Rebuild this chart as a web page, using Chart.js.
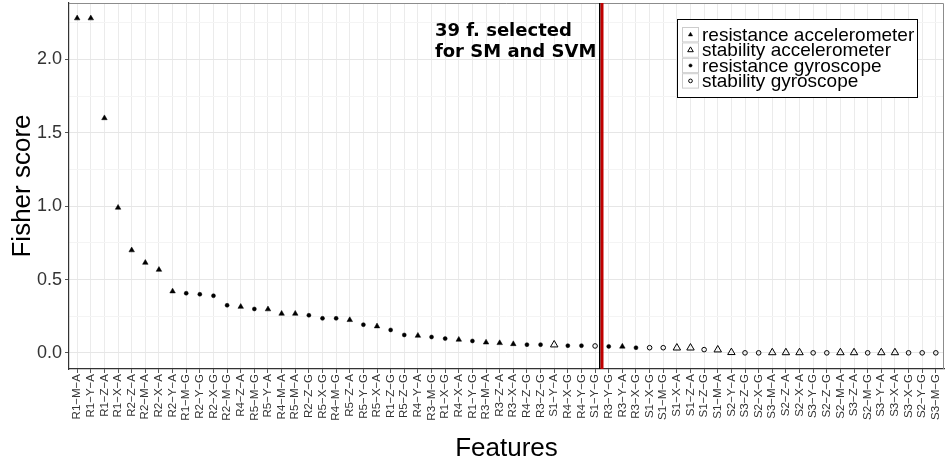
<!DOCTYPE html>
<html>
<head>
<meta charset="utf-8">
<script src="https://cdn.jsdelivr.net/npm/chart.js@4/dist/chart.umd.min.js"></script>
<style>
  html, body { margin: 0; padding: 0; background: #fff; }
  canvas { display: block; }
</style>
</head>
<body>
<canvas id="fisherChart" width="945" height="466"></canvas>
<script>
// features sorted by Fisher score
const featureLabels = [
    'R1-M-A', 'R1-Y-A', 'R1-Z-A', 'R1-X-A', 'R2-Z-A', 'R2-M-A', 'R2-X-A', 'R2-Y-A',
    'R1-M-G', 'R2-Y-G', 'R2-X-G', 'R2-M-G', 'R4-Z-A', 'R5-M-G', 'R5-Y-A', 'R4-M-A',
    'R5-M-A', 'R2-Z-G', 'R5-X-G', 'R4-M-G', 'R5-Z-A', 'R5-Y-G', 'R5-X-A', 'R1-Z-G',
    'R5-Z-G', 'R4-Y-A', 'R3-M-G', 'R1-X-G', 'R4-X-A', 'R1-Y-G', 'R3-M-A', 'R3-Z-A',
    'R3-X-A', 'R4-Z-G', 'R3-Z-G', 'S1-Y-A', 'R4-X-G', 'R4-Y-G', 'S1-Y-G', 'R3-Y-G',
    'R3-Y-A', 'R3-X-G', 'S1-X-G', 'S1-M-G', 'S1-X-A', 'S1-Z-A', 'S1-Z-G', 'S1-M-A',
    'S2-Y-A', 'S3-Z-G', 'S2-X-G', 'S3-M-A', 'S2-Z-A', 'S2-X-A', 'S3-Y-G', 'S2-Z-G',
    'S2-M-A', 'S3-Z-A', 'S2-M-G', 'S3-Y-A', 'S3-X-A', 'S3-X-G', 'S2-Y-G', 'S3-M-G'
];
const fisherScores = [
    2.28, 2.28, 1.60, 0.99, 0.70, 0.615, 0.567, 0.42,
    0.407, 0.40, 0.39, 0.325, 0.315, 0.30, 0.298, 0.268,
    0.268, 0.257, 0.236, 0.236, 0.225, 0.193, 0.182, 0.157,
    0.123, 0.118, 0.109, 0.098, 0.091, 0.082, 0.072, 0.068,
    0.061, 0.057, 0.057, 0.056, 0.050, 0.050, 0.048, 0.045,
    0.044, 0.036, 0.036, 0.036, 0.035, 0.035, 0.023, 0.022,
    0.004, 0.001, 0.001, 0.003, 0.003, 0.003, 0.001, 0.001,
    0.003, 0.003, 0.001, 0.003, 0.003, 0.001, 0.001, 0.001
];
const groupNames = ['resistance accelerometer', 'stability accelerometer', 'resistance gyroscope', 'stability gyroscope'];
const groupCodes = ['R-A', 'S-A', 'R-G', 'S-G'];
const selectedCount = 39;
const yTicks = [0, 0.25, 0.5, 0.75, 1, 1.25, 1.5, 1.75, 2, 2.25];

const groupStyles = [
    { pointStyle: 'triangle', radius: 3.2, fill: '#000', borderWidth: 0.5 },
    { pointStyle: 'triangle', radius: 4.3, fill: 'rgba(0,0,0,0)', borderWidth: 1 },
    { pointStyle: 'circle', radius: 2, fill: '#000', borderWidth: 0.5 },
    { pointStyle: 'circle', radius: 2.3, fill: 'rgba(0,0,0,0)', borderWidth: 1 }
];

const FONT = "'Liberation Sans', Arial, sans-serif";

function groupOf(label) {
    return label[0] + '-' + label[label.length - 1];
}

const datasets = groupNames.map((name, g) => {
    const pts = [];
    featureLabels.forEach((lab, i) => {
        if (groupOf(lab) === groupCodes[g]) pts.push({ x: i + 1, y: fisherScores[i] });
    });
    const st = groupStyles[g];
    return {
        label: name,
        data: pts,
        pointStyle: st.pointStyle,
        pointRadius: st.radius,
        pointHoverRadius: st.radius,
        backgroundColor: st.fill,
        borderColor: '#000',
        borderWidth: st.borderWidth,
        showLine: false
    };
});

// border, cut-off line, annotation and legend box
const decorPlugin = {
    id: 'decor',
    afterDatasetsDraw(chart) {
        const ctx = chart.ctx;
        const a = chart.chartArea;
        const xs = chart.scales.x;
        ctx.save();
        // panel border top/right
        ctx.strokeStyle = '#8c8c8c';
        ctx.lineWidth = 1;
        ctx.beginPath();
        ctx.moveTo(a.left, a.top + 0.5);
        ctx.lineTo(a.right - 0.5, a.top + 0.5);
        ctx.lineTo(a.right - 0.5, a.bottom);
        ctx.stroke();

        // cut-off line after the selected features
        const lx = xs.getPixelForValue(selectedCount + 0.5);
        ctx.fillStyle = '#000';
        ctx.fillRect(Math.round(lx) - 3, a.top, 1.5, a.bottom - a.top);
        ctx.fillStyle = '#c00000';
        ctx.fillRect(Math.round(lx) - 1.5, a.top, 3, a.bottom - a.top);

        ctx.fillStyle = '#000';
        ctx.font = "bold 18px 'DejaVu Sans', sans-serif";
        ctx.textAlign = 'left';
        ctx.textBaseline = 'alphabetic';
        ctx.fillText('39 f. selected', lx - 167, a.top + 33);
        ctx.fillText('for SM and SVM', lx - 167, a.top + 54);
        ctx.restore();
    },
    afterDraw(chart) {
        const ctx = chart.ctx;
        const a = chart.chartArea;
        const x0 = a.right - 267, y0 = a.top + 16, w = 240, h = 78;
        ctx.save();
        ctx.fillStyle = '#fff';
        ctx.fillRect(x0, y0, w, h);
        ctx.strokeStyle = '#000';
        ctx.lineWidth = 1;
        ctx.strokeRect(x0 + 0.5, y0 + 0.5, w, h);

        const rowH = 15.4;
        const ky = y0 + 8;
        groupNames.forEach((name, g) => {
            const top = ky + g * rowH;
            ctx.fillStyle = '#fff';
            ctx.fillRect(x0 + 5, top, 17, rowH);
            ctx.strokeStyle = '#cccccc';
            ctx.lineWidth = 1;
            ctx.strokeRect(x0 + 5.5, top + 0.5, 16, rowH - 1);

            const st = groupStyles[g];
            ctx.fillStyle = st.fill;
            ctx.strokeStyle = '#000';
            ctx.lineWidth = st.borderWidth;
            const r = st.pointStyle === 'triangle' ? st.radius * 0.75 : st.radius * 0.8;
            Chart.helpers.drawPoint(ctx, {
                pointStyle: st.pointStyle, radius: r, rotation: 0, borderWidth: st.borderWidth
            }, x0 + 13.5, top + rowH / 2);

            ctx.fillStyle = '#000';
            ctx.font = '19px ' + FONT;
            ctx.textAlign = 'left';
            ctx.textBaseline = 'middle';
            ctx.fillText(name, x0 + 25, top + rowH / 2 + 1);
        });
        ctx.restore();
    }
};

new Chart(document.getElementById('fisherChart'), {
    type: 'scatter',
    data: { datasets: datasets },
    options: {
        responsive: false,
        animation: false,
        events: [],
        layout: { autoPadding: false, padding: { top: 3, right: 1, left: 0, bottom: 0 } },
        plugins: {
            legend: { display: false },
            tooltip: { enabled: false },
            title: { display: false }
        },
        scales: {
            x: {
                type: 'linear',
                min: 0.4,
                max: featureLabels.length + 0.6,
                afterBuildTicks(scale) {
                    scale.ticks = featureLabels.map((_, i) => ({ value: i + 1 }));
                },
                afterFit(scale) {
                    scale.height = 97;
                    scale.paddingLeft = 0;
                    scale.paddingRight = 0;
                },
                ticks: {
                    autoSkip: false,
                    minRotation: 90,
                    maxRotation: 90,
                    padding: 1,
                    color: '#333',
                    font: { family: FONT, size: 11.5 },
                    callback: v => (featureLabels[v - 1] || '').replace(/-/g, '\u2212')
                },
                grid: {
                    color: '#ebebeb',
                    lineWidth: 1,
                    tickColor: '#555',
                    tickLength: 4
                },
                border: { display: true, color: '#333', width: 1.2 },
                title: {
                    display: true,
                    text: 'Features',
                    color: '#000',
                    font: { family: FONT, size: 26, lineHeight: 1.2 },
                    padding: { top: 0, bottom: 2 }
                }
            },
            y: {
                type: 'linear',
                min: -0.109,
                max: 2.384,
                afterBuildTicks(scale) {
                    scale.ticks = yTicks.map(v => ({ value: v }));
                },
                afterFit(scale) {
                    scale.width = 69;
                    scale.paddingTop = 0;
                    scale.paddingBottom = 0;
                },
                ticks: {
                    padding: 3,
                    color: '#333',
                    font: { family: FONT, size: 18 },
                    callback: v => (Math.abs(v * 2 - Math.round(v * 2)) < 1e-9 ? v.toFixed(1) : '')
                },
                grid: {
                    color: ctx => (ctx.tick && Math.abs(ctx.tick.value * 2 - Math.round(ctx.tick.value * 2)) < 1e-9) ? '#e6e6e6' : '#f4f4f4',
                    tickColor: ctx => (ctx.tick && Math.abs(ctx.tick.value * 2 - Math.round(ctx.tick.value * 2)) < 1e-9) ? '#555' : 'rgba(0,0,0,0)',
                    tickLength: 4,
                    lineWidth: 1
                },
                border: { display: true, color: '#333', width: 1.2 },
                title: {
                    display: true,
                    text: 'Fisher score',
                    color: '#000',
                    font: { family: FONT, size: 26, lineHeight: 1.2 },
                    padding: { top: 7, bottom: 0 }
                }
            }
        }
    },
    plugins: [decorPlugin]
});
</script>
</body>
</html>
